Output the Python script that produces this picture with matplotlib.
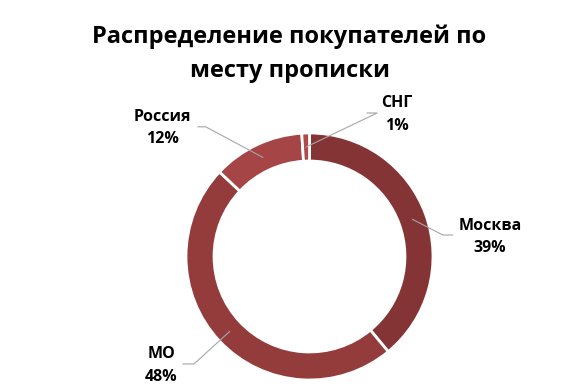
import numpy as np
import matplotlib
matplotlib.use("Agg")
import matplotlib.pyplot as plt

plt.rcParams['font.family'] = ['Open Sans', 'DejaVu Sans']

# Данные
categories = ['Москва', 'МО', 'Россия', 'СНГ']
shares = [39, 48, 12, 1]
colors = ['#853436', '#943c3c', '#a54545', '#b04a4a']

# положение подписей (в координатах осей, радиус кольца = 1)
label_pos = {'Москва': (1.46, 0.158), 'МО': (-1.198, -0.883),
             'Россия': (-1.194, 1.04), 'СНГ': (0.71, 1.15)}
elbow_pos = {'Москва': (1.08, 0.174), 'МО': (-0.935, -0.87),
             'Россия': (-0.84, 1.05), 'СНГ': (0.547, 1.162)}
line_end = {'Москва': 1.16, 'МО': -1.024, 'Россия': -0.903, 'СНГ': 0.466}

fig = plt.figure(figsize=(5.79, 3.91), dpi=100)
ax = fig.add_axes([186/579, 11/391, 247/579, 247/391])

wedges, _ = ax.pie(shares, colors=colors, startangle=90, counterclock=False,
                   radius=1.0,
                   wedgeprops=dict(width=0.227, edgecolor='white', linewidth=2))

for w, name, val in zip(wedges, categories, shares):
    mid = np.deg2rad((w.theta1 + w.theta2) / 2)
    ax_x, ax_y = 0.887*np.cos(mid), 0.887*np.sin(mid)
    ex, ey = elbow_pos[name]
    ax.plot([ax_x, ex, line_end[name]], [ax_y, ey, ey], color='#a6a6a6', lw=0.8,
            clip_on=False, zorder=3)
    lx, ly = label_pos[name]
    ax.text(lx, ly, f'{name}\n{val}%', ha='center', va='center', fontsize=11.5,
            fontweight='bold', linespacing=1.55, color='black')

ax.set_xlim(-1, 1)
ax.set_ylim(-1, 1)
ax.set_aspect('equal')
ax.axis('off')

fig.text(0.5, 0.905, 'Распределение покупателей по', ha='center', va='center',
         fontsize=17, fontweight='bold')
fig.text(0.5, 0.818, 'месту прописки', ha='center', va='center',
         fontsize=17, fontweight='bold')

fig.savefig('out.png', dpi=100)
